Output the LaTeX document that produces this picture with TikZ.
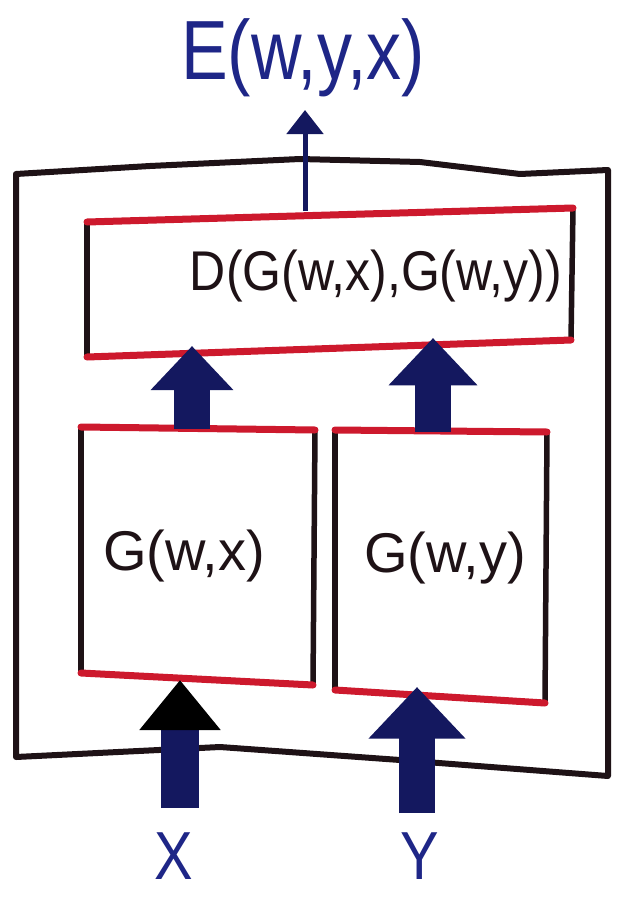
\documentclass[tikz,border=0pt]{standalone}
\usepackage{fontspec}
\setmainfont{Liberation Sans}
\usepackage{graphicx}
\usetikzlibrary{arrows.meta}
\definecolor{navytext}{RGB}{30,38,135}
\definecolor{navyarrow}{RGB}{20,24,95}
\definecolor{boxred}{RGB}{205,25,45}
\definecolor{ink}{RGB}{30,18,22}
\begin{document}
\begin{tikzpicture}[x=1pt,y=-1pt,
  inkline/.style={draw=ink,line width=6pt,line join=round,line cap=round},
  redline/.style={draw=boxred,line width=7pt,line cap=round},
  sideline/.style={draw=ink,line width=5.5pt,line cap=round},
  bigarrow/.style={draw=navyarrow,line width=36pt,-{Triangle[width=#1,length=0.55*#1]}},
  thinarrow/.style={draw=navyarrow,line width=5pt,-{Triangle[width=36pt,length=24pt]}},
  bluetext/.style={text=navytext,inner sep=0pt},
  boxtext/.style={text=ink,inner sep=0pt}]
\useasboundingbox (0,0) rectangle (617,899);
\fill[white] (0,0) rectangle (617,899);

% outer frame
\draw[inkline] (16,174) -- (150,166) -- (300,159) -- (420,162) -- (520,174) -- (608,170)
  -- (608,776) -- (400,760) -- (220,747) -- (16,757) -- cycle;

% D box corners
\coordinate (Dnw) at (87,222);
\coordinate (Dne) at (573,208);
\coordinate (Dse) at (571,340);
\coordinate (Dsw) at (87,357);
\draw[sideline] (Dne) -- (Dse);
\draw[sideline] (Dsw) -- (Dnw);
\draw[redline] (Dnw) -- (Dne);
\draw[redline] (Dse) -- (Dsw);
\node[boxtext] (Dlabel) at (376,276)
  {\fontsize{50}{50}\selectfont\scalebox{1}[1.12]{D(G(w,x),G(w,y))}};

% G boxes
\coordinate (Gxnw) at (81,427);
\coordinate (Gxne) at (315,430);
\coordinate (Gxse) at (313,685);
\coordinate (Gxsw) at (81,673);
\draw[sideline] (Gxne) -- (Gxse);
\draw[sideline] (Gxsw) -- (Gxnw);
\draw[redline] (Gxnw) -- (Gxne);
\draw[redline] (Gxse) -- (Gxsw);
\node[boxtext] (Gx) at (184,556)
  {\fontsize{56}{56}\selectfont G(w,x)};

\coordinate (Gynw) at (335,430);
\coordinate (Gyne) at (547,432);
\coordinate (Gyse) at (545,703);
\coordinate (Gysw) at (335,690);
\draw[sideline] (Gyne) -- (Gyse);
\draw[sideline] (Gysw) -- (Gynw);
\draw[redline] (Gynw) -- (Gyne);
\draw[redline] (Gyse) -- (Gysw);
\node[boxtext] (Gy) at (445,558)
  {\fontsize{56}{56}\selectfont G(w,y)};

% labels
\node[bluetext] (E) at (303,58)
  {\fontsize{70}{70}\selectfont\scalebox{1}[1.2]{E(w,y,x)}};
\node[bluetext] (X) at (174,856)
  {\fontsize{68}{68}\selectfont\scalebox{0.85}[1]{X}};
\node[bluetext] (Y) at (420,856)
  {\fontsize{68}{68}\selectfont\scalebox{0.85}[1]{Y}};

% connector anchors
\coordinate (Dtop) at (305,211);
\coordinate (Etip) at (305,110);
\coordinate (GxTop) at (192,429);
\coordinate (DbotL) at (192,346);
\coordinate (GyTop) at (433,432);
\coordinate (DbotR) at (433,338);
\coordinate (Xfoot) at (180,808);
\coordinate (GxBot) at (180,680);
\coordinate (Yfoot) at (417,813);
\coordinate (GyBot) at (417,687);

% arrows
\draw[thinarrow] (Dtop) -- (Etip);
\draw[bigarrow=80pt] (GxTop) -- (DbotL);
\draw[bigarrow=86pt] (GyTop) -- (DbotR);
\draw[draw=navyarrow,line width=38pt,-{Triangle[width=78pt,length=50pt,color=black]}] (Xfoot) -- (GxBot);
\draw[bigarrow=94pt] (Yfoot) -- (GyBot);
\end{tikzpicture}
\end{document}
